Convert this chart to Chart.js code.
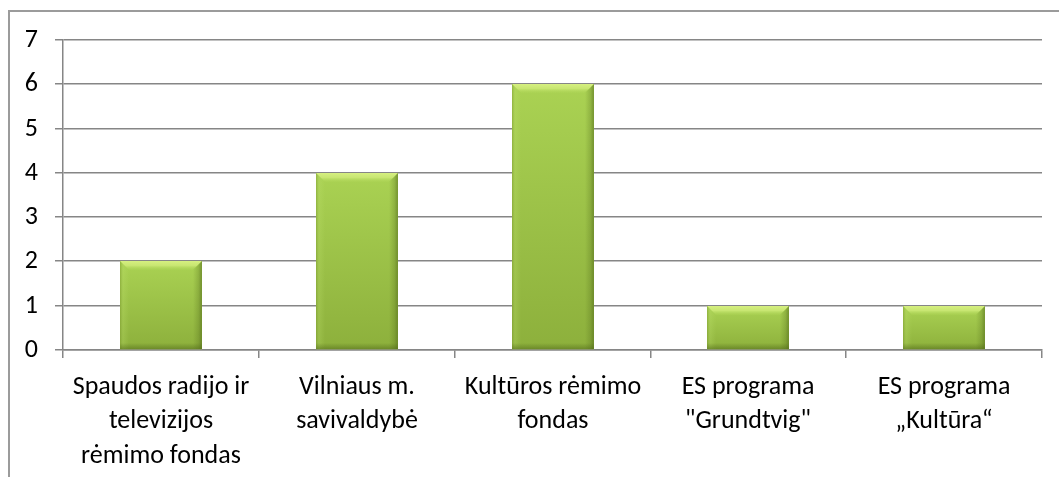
<!DOCTYPE html>
<html>
<head>
<meta charset="utf-8">
<script src="https://cdn.jsdelivr.net/npm/chart.js@4.4.0/dist/chart.umd.min.js"></script>
<style>
  html, body { margin: 0; padding: 0; background: #fff; overflow: hidden; }
  #frame { position: absolute; left: 8px; top: 10px; width: 1100px; height: 520px; border: 2px solid #9b9b9b; box-sizing: border-box; }
  #wrap { position: absolute; left: 0; top: 0; width: 1059px; height: 477px; }
</style>
</head>
<body>
<div id="frame"></div>
<div id="wrap"><canvas id="c" width="1059" height="477"></canvas></div>
<script>
const categories = [
  ["Spaudos radijo ir", "televizijos", "rėmimo fondas"],
  ["Vilniaus m.", "savivaldybė"],
  ["Kultūros rėmimo", "fondas"],
  ["ES programa", "\"Grundtvig\""],
  ["ES programa", "„Kultūra“"]
];
const values = [2, 4, 6, 1, 1];
const yTicks = [0, 1, 2, 3, 4, 5, 6, 7];

const FONT = "Carlito, Calibri, Lato, 'Open Sans', sans-serif";

const bevelPlugin = {
  id: 'bevel',
  afterDatasetsDraw(chart) {
    const ctx = chart.ctx;
    const meta = chart.getDatasetMeta(0);
    meta.data.forEach(el => {
      const w = el.width;
      const x0 = el.x - w / 2, x1 = el.x + w / 2;
      const y0 = el.y, y1 = el.base;
      const h = y1 - y0;
      const b = Math.min(9, h / 3);
      ctx.save();
      ctx.beginPath(); ctx.rect(x0, y0, w, h); ctx.clip();
      let g = ctx.createLinearGradient(0, y0, 0, y1);
      g.addColorStop(0, '#aad253');
      g.addColorStop(1, '#8db03c');
      ctx.fillStyle = g;
      ctx.fillRect(x0, y0, w, h);
      g = ctx.createLinearGradient(x0, 0, x0 + b, 0);
      g.addColorStop(0, 'rgba(120,150,45,0.55)');
      g.addColorStop(0.35, 'rgba(190,225,110,0.25)');
      g.addColorStop(1, 'rgba(190,225,110,0)');
      ctx.fillStyle = g;
      ctx.fillRect(x0, y0, b, h);
      g = ctx.createLinearGradient(x1 - b, 0, x1, 0);
      g.addColorStop(0, 'rgba(80,105,25,0)');
      g.addColorStop(0.6, 'rgba(80,105,25,0.25)');
      g.addColorStop(1, 'rgba(80,105,25,0.6)');
      ctx.fillStyle = g;
      ctx.fillRect(x1 - b, y0, b, h);
      g = ctx.createLinearGradient(0, y1 - b * 0.7, 0, y1);
      g.addColorStop(0, 'rgba(80,105,25,0)');
      g.addColorStop(1, 'rgba(80,105,25,0.55)');
      ctx.fillStyle = g;
      ctx.fillRect(x0, y1 - b * 0.7, w, b * 0.7);
      g = ctx.createLinearGradient(0, y0, 0, y0 + b);
      g.addColorStop(0, '#d6f080');
      g.addColorStop(0.5, '#c8e672');
      g.addColorStop(1, 'rgba(175,215,88,0.2)');
      ctx.fillStyle = g;
      ctx.beginPath();
      ctx.moveTo(x0, y0); ctx.lineTo(x1, y0); ctx.lineTo(x1 - b, y0 + b); ctx.lineTo(x0 + b, y0 + b); ctx.closePath();
      ctx.fill();
      ctx.restore();
    });
  }
};

new Chart(document.getElementById('c'), {
  type: 'bar',
  data: {
    labels: categories,
    datasets: [{
      data: values,
      backgroundColor: '#9bbf47',
      borderWidth: 0,
      barPercentage: 0.42,
      categoryPercentage: 1
    }]
  },
  plugins: [bevelPlugin],
  options: {
    responsive: false,
    animation: false,
    events: [],
    layout: { padding: { left: 0, top: 40, right: 17, bottom: 0 } },
    plugins: { legend: { display: false }, tooltip: { enabled: false } },
    scales: {
      x: {
        alignToPixels: true,
        grid: { offset: true, drawOnChartArea: false, drawTicks: true, tickLength: 8, color: '#868686', lineWidth: 1.5 },
        border: { display: true, color: '#868686', width: 1.5 },
        ticks: { color: '#000', font: { family: FONT, size: 26, lineHeight: 1.33 }, padding: 12, maxRotation: 0, autoSkip: false },
        afterFit(s) { s.height = 127; }
      },
      y: {
        min: 0, max: 7,
        alignToPixels: true,
        afterBuildTicks(s) { s.ticks = yTicks.map(v => ({ value: v })); },
        grid: { drawTicks: true, tickLength: 8, color: '#868686', lineWidth: 1.5 },
        border: { display: true, color: '#868686', width: 1.5 },
        ticks: { color: '#000', font: { family: FONT, size: 26 }, padding: 17 },
        afterFit(s) { s.width = 63; }
      }
    }
  }
});
</script>
</body>
</html>
